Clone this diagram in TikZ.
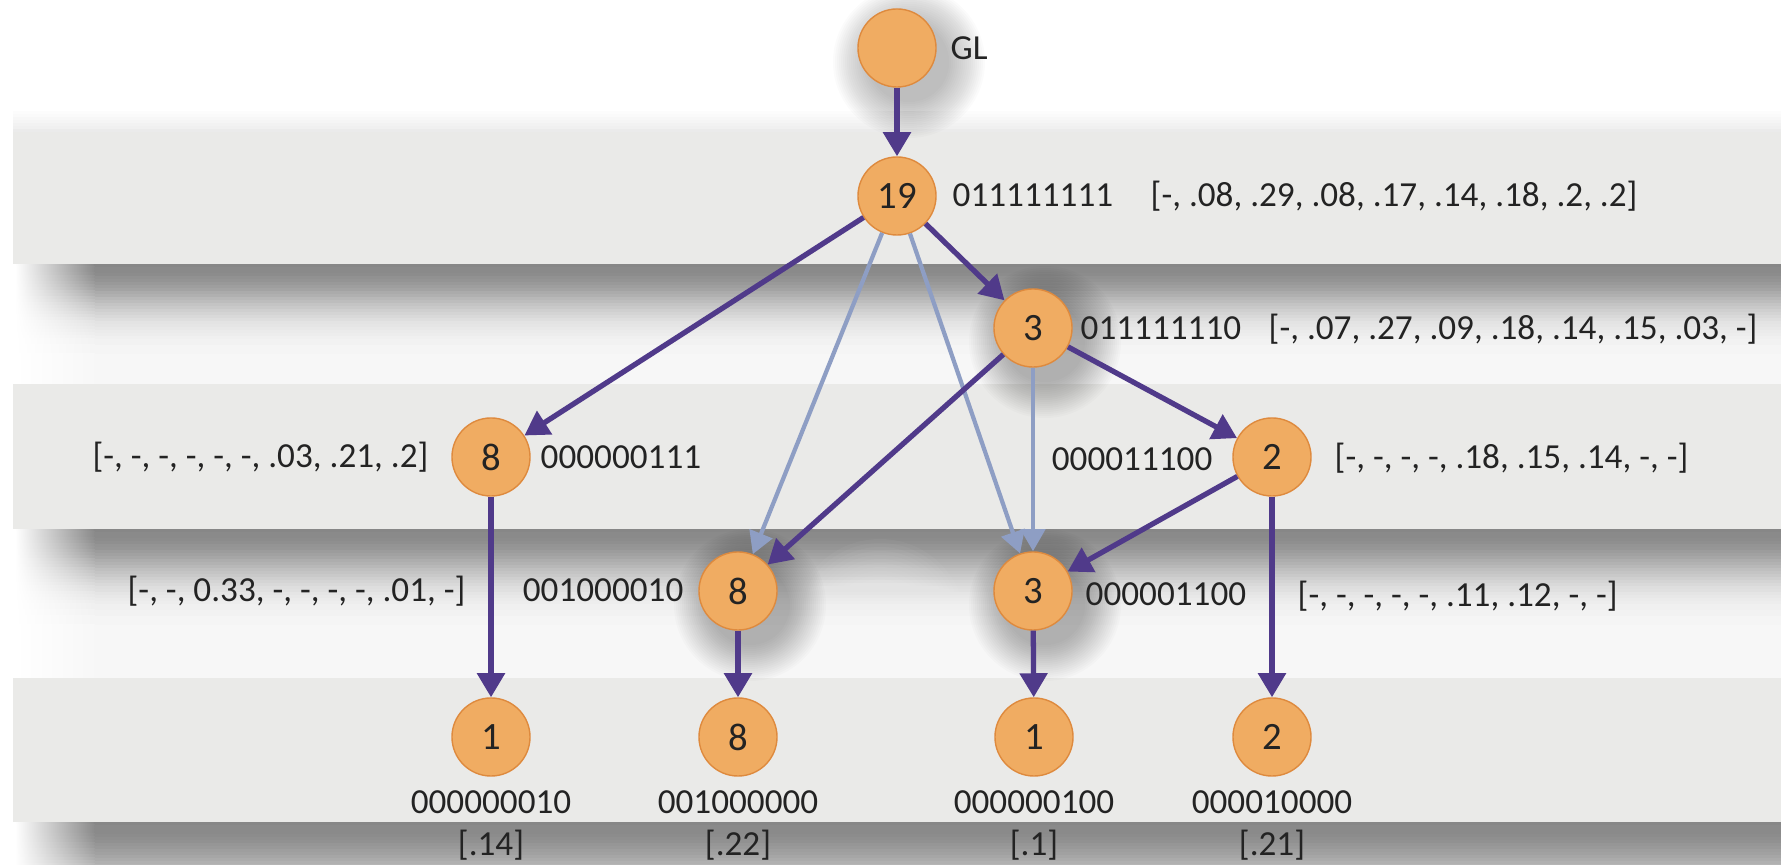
\documentclass[tikz,border=0pt]{standalone}
\usepackage{fontspec}
\setmainfont{Carlito}
\usetikzlibrary{arrows.meta,backgrounds}
\definecolor{band}{RGB}{234,234,232}
\definecolor{dark}{RGB}{80,58,138}
\definecolor{light}{RGB}{142,158,196}
\definecolor{nodefill}{RGB}{240,172,98}
\definecolor{nodeline}{RGB}{222,138,62}
\definecolor{txt}{RGB}{35,35,35}

\begin{document}
\begin{tikzpicture}[x=0.01cm,y=-0.01cm,
    cnode/.style={circle,fill=nodefill,draw=nodeline,line width=0.4pt,minimum size=0.78cm,inner sep=0pt,text=txt,font=\fontsize{11}{13}\selectfont},
    lbl/.style={text=txt,font=\fontsize{10}{12}\selectfont,inner sep=0pt,text height=7pt,text depth=1.5pt},
    strong/.style={-{Triangle[length=0.24cm,width=0.27cm]},draw=dark,line width=1.5pt},
    weak/.style={-{Triangle[length=0.22cm,width=0.24cm]},draw=light,line width=1.2pt}]
    \useasboundingbox (0,0) rectangle (1781,865);
    \node[cnode] (gl) at (897,48) {};
    \node[lbl,anchor=west] (glname) at (950,50) {GL};
    \node[cnode] (g19) at (897,196) {19};
    \node[lbl,anchor=west] (g19code) at (952,197) {011111111};
    \node[lbl,anchor=west] (g19prob) at (1150,197) {[-, .08, .29, .08, .17, .14, .18, .2, .2]};
    \node[cnode] (g3) at (1033,328) {3};
    \node[lbl,anchor=west] (g3code) at (1080,330) {011111110};
    \node[lbl,anchor=west] (g3prob) at (1268,330) {[-, .07, .27, .09, .18, .14, .15, .03, -]};
    \node[cnode] (g8) at (491,457) {8};
    \node[lbl,anchor=east] (g8prob) at (429,458) {[-, -, -, -, -, -, .03, .21, .2]};
    \node[lbl,anchor=west] (g8code) at (540,459) {000000111};
    \node[cnode] (g2) at (1272,457) {2};
    \node[lbl,anchor=east] (g2code) at (1213,461) {000011100};
    \node[lbl,anchor=west] (g2prob) at (1334,459) {[-, -, -, -, .18, .15, .14, -, -]};
    \node[cnode] (h8) at (738,591) {8};
    \node[lbl,anchor=east] (h8prob) at (466,592) {[-, -, 0.33, -, -, -, -, .01, -]};
    \node[lbl,anchor=east] (h8code) at (684,592) {001000010};
    \node[cnode] (h3) at (1033,591) {3};
    \node[lbl,anchor=west] (h3code) at (1085,596) {000001100};
    \node[lbl,anchor=west] (h3prob) at (1297,597) {[-, -, -, -, -, .11, .12, -, -]};
    \node[cnode] (k1) at (491,737) {1};
    \node[cnode] (k8) at (738,737) {8};
    \node[cnode] (k1b) at (1034,737) {1};
    \node[cnode] (k2) at (1272,737) {2};
    \node[lbl] (k1code) at (491,804) {000000010};
    \node[lbl] (k1prob) at (491,846) {[.14]};
    \node[lbl] (k8code) at (738,804) {001000000};
    \node[lbl] (k8prob) at (738,846) {[.22]};
    \node[lbl] (k1bcode) at (1034,804) {000000100};
    \node[lbl] (k1bprob) at (1034,846) {[.1]};
    \node[lbl] (k2code) at (1272,804) {000010000};
    \node[lbl] (k2prob) at (1272,846) {[.21]};
    \draw[weak] (g19) -- (h8);
    \draw[weak] (g19) -- (h3);
    \draw[weak] (g3) -- (h3);
    \draw[strong] (gl) -- (g19);
    \draw[strong] (g19) -- (g3);
    \draw[strong] (g19) -- (g8);
    \draw[strong] (g3) -- (h8);
    \draw[strong] (g3) -- (g2);
    \draw[strong] (g2) -- (h3);
    \draw[strong] (g8) -- (k1);
    \draw[strong] (h8) -- (k8);
    \draw[strong] (h3) -- (k1b);
    \draw[strong] (g2) -- (k2);
    \begin{scope}[on background layer]
        \foreach \b/\n/\w in {264/39/45,529/49/48,822/14/60} {
            \foreach \i in {0,...,\n} {
                \pgfmathtruncatemacro{\c}{3+44*exp(-(\i*3/\w)^2)}
                \shade[left color=white,right color=black!\c] (15,\b+3*\i) rectangle (95,\b+3*\i+3.5);
                \fill[black!\c] (94,\b+3*\i) rectangle (1781,\b+3*\i+3.5);
            }
        }
        \foreach \i in {0,...,6} {
            \pgfmathtruncatemacro{\c}{8*(1-\i/7)}
            \fill[black!\c] (13,132-3*\i-3) rectangle (1781,132-3*\i);
        }
        \foreach \t/\b in {132/264,384/529,678/822}
            \fill[band] (13,\t) rectangle (1781,\b);
        \foreach \r in {86,82,...,30}
            \fill[white,opacity=.035] (880,625) circle (\r);
        \foreach \n in {gl,g3,h8,h3}
            \foreach \r in {40,42,...,76}
                \fill[black,opacity=.015] ([shift={(12,14)}]\n.center) circle (\r);
    \end{scope}
\end{tikzpicture}
\end{document}
